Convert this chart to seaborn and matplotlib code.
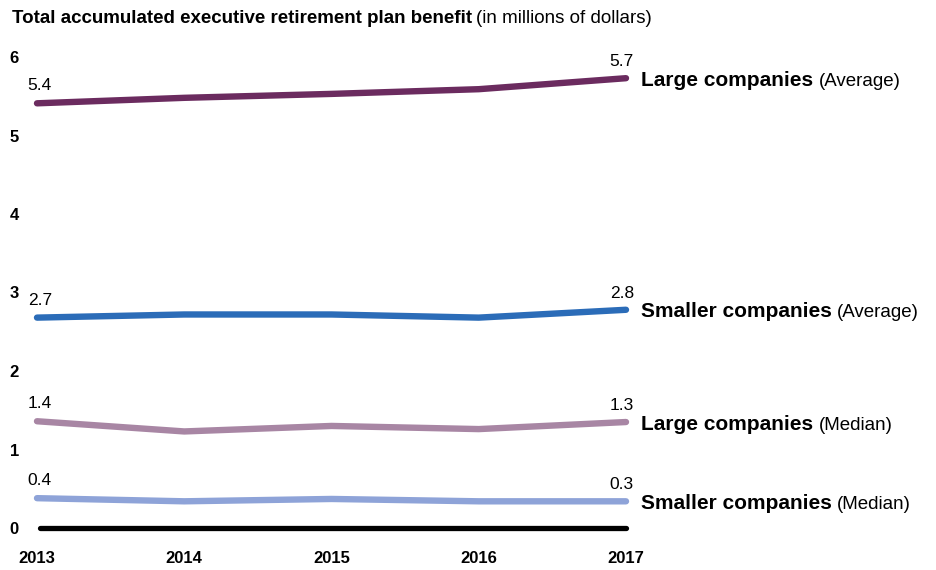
import pandas as pd
import matplotlib.pyplot as plt
from matplotlib.transforms import IdentityTransform, offset_copy
import seaborn as sns

years = [2013, 2014, 2015, 2016, 2017]
large_avg = [5.41, 5.48, 5.53, 5.59, 5.73]
small_avg = [2.68, 2.72, 2.72, 2.68, 2.78]
large_med = [1.36, 1.23, 1.30, 1.26, 1.35]
small_med = [0.38, 0.34, 0.37, 0.34, 0.34]

series_keys = ['large_avg', 'small_avg', 'large_med', 'small_med']
series_bold = ['Large companies', 'Smaller companies', 'Large companies', 'Smaller companies']
series_rest = ['(Average)', '(Average)', '(Median)', '(Median)']
start_labels = ['5.4', '2.7', '1.4', '0.4']
end_labels = ['5.7', '2.8', '1.3', '0.3']
colors = ['#6b2b5f', '#2b6cb8', '#a886a4', '#8ea3d8']

values = [large_avg, small_avg, large_med, small_med]
df = pd.DataFrame({
    'year': years * 4,
    'value': large_avg + small_avg + large_med + small_med,
    'series': [k for k in series_keys for _ in years],
})

sns.set_style('white')
plt.rcParams['font.family'] = ['Liberation Sans', 'DejaVu Sans']
plt.rcParams['text.color'] = 'black'
plt.rcParams['xtick.color'] = 'black'
plt.rcParams['ytick.color'] = 'black'

W, H = 936, 570
fig = plt.figure(figsize=(W / 100, H / 100), dpi=100)
x0, x1 = 37, 626
y0, y1 = 528, 57
ax = fig.add_axes([x0 / W, 1 - y0 / H, (x1 - x0) / W, (y0 - y1) / H])

sns.lineplot(data=df, x='year', y='value', hue='series', hue_order=series_keys,
             palette=colors, linewidth=4.6, legend=False, ax=ax,
             solid_capstyle='round', clip_on=False, zorder=3)

ax.set_xlim(2013, 2017)
ax.set_ylim(0, 6)
ax.axhline(0, xmin=0.005, xmax=1.0, color='black', linewidth=3.8, clip_on=False, zorder=2)
sns.despine(ax=ax, left=True, bottom=True)

ax.set_xticks(years)
ax.set_xticklabels([str(y) for y in years], fontweight='bold', fontsize=12)
ax.set_yticks(range(7))
ax.set_yticklabels([str(i) for i in range(7)], fontweight='bold', fontsize=12)
ax.tick_params(axis='x', length=0, pad=16.5)
ax.tick_params(axis='y', length=0, pad=13)
ax.set_xlabel('')
ax.set_ylabel('')

# value labels at both ends
for vals, s, e in zip(values, start_labels, end_labels):
    ax.annotate(s, (years[0], vals[0]), xytext=(2, 12.5), textcoords='offset points',
                ha='center', va='center', fontsize=12.5)
    ax.annotate(e, (years[-1], vals[-1]), xytext=(-3, 12), textcoords='offset points',
                ha='center', va='center', fontsize=12.5)

# series names at right
bold_texts = []
for vals, b in zip(values, series_bold):
    tr = offset_copy(ax.transData, fig=fig, x=11, y=-5.5, units='points')
    t = ax.text(years[-1], vals[-1], b, transform=tr, ha='left', va='baseline',
                fontsize=15, fontweight='bold', clip_on=False)
    bold_texts.append(t)

title = fig.text(12 / W, 1 - 23 / H, 'Total accumulated executive retirement plan benefit',
                 fontsize=13.5, fontweight='bold', ha='left', va='baseline')

fig.canvas.draw()
renderer = fig.canvas.get_renderer()
for t, rest in zip(bold_texts, series_rest):
    bb = t.get_window_extent(renderer)
    bx, by = t.get_transform().transform(t.get_position())
    fig.text(bb.x1 + 5, by, rest, transform=IdentityTransform(),
             fontsize=13.5, ha='left', va='baseline')
bb = title.get_window_extent(renderer)
fig.text(bb.x1 + 4, 570 - 23, '(in millions of dollars)', transform=IdentityTransform(),
         fontsize=13.5, ha='left', va='baseline')

fig.savefig('out.png', dpi=100, facecolor='white')
